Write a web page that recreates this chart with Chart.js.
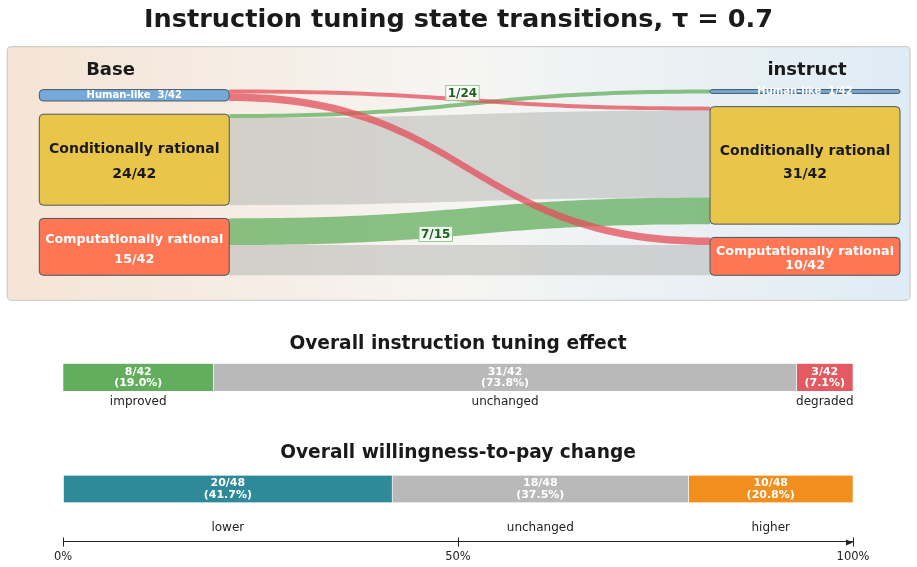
<!DOCTYPE html>
<html>
<head>
<meta charset="utf-8">
<title>Instruction tuning state transitions</title>
<script src="https://cdn.jsdelivr.net/npm/chart.js@4.4.1/dist/chart.umd.min.js"></script>
<style>
    html, body { margin: 0; padding: 0; background: #ffffff; }
    body { width: 917px; height: 567px; position: relative; overflow: hidden; font-family: 'DejaVu Sans', sans-serif; }
    canvas { position: absolute; left: 0; }
    #sankeyChart { top: 0; }
    #effectChart { top: 320px; }
    #wtpChart { top: 430px; }
    #mainTitle {
        position: absolute; left: 0; top: 0; width: 917px; height: 36px; line-height: 36px;
        text-align: center; font-weight: bold; font-size: 25.6px; color: #1a1a1a;
    }
</style>
</head>
<body>
<canvas id="sankeyChart" width="917" height="310"></canvas>
<canvas id="effectChart" width="917" height="95"></canvas>
<canvas id="wtpChart" width="917" height="140"></canvas>
<div id="mainTitle">Instruction tuning state transitions, τ = 0.7</div>

<script>
/* ==========================================================================
   Instruction tuning state transitions (tau = 0.7)
   top: sankey Base -> instruct, bottom: two stacked share bars
   ========================================================================== */

// --- data ------------------------------------------------------------------
const STATES          = ['Human-like', 'Conditionally rational', 'Computationally rational'];
const BASE_COUNTS     = [3, 24, 15];
const INSTRUCT_COUNTS = [1, 31, 10];

// transitions: source state -> destination state (index into STATES)
const FLOW_SRC    = [0, 0, 1, 1, 2, 2];
const FLOW_DST    = [1, 2, 0, 1, 1, 2];
const FLOW_COUNTS = [1, 2, 1, 23, 7, 8];

const EFFECT_LABELS = ['improved', 'unchanged', 'degraded'];
const EFFECT_COUNTS = [8, 31, 3];

const WTP_LABELS = ['lower', 'unchanged', 'higher'];
const WTP_COUNTS = [20, 18, 10];
const WTP_TICKS  = [0, 50, 100];   // percent

// --- styles ----------------------------------------------------------------
const FONT = "'DejaVu Sans', 'Noto Sans', sans-serif";
const NODE_COLORS  = ['#74a9d8', '#e9c54a', '#fe7653'];
const NODE_TEXT    = ['#ffffff', '#1a1a1a', '#ffffff'];
const NODE_FONT_PX = [10, 14, 12.7];
const FLOW_FILL = {
    same: 'rgba(176, 177, 174, 0.5)',
    up:   'rgba(99, 173, 94, 0.75)',
    down: 'rgba(227, 78, 89, 0.75)',
};
const EFFECT_COLORS = ['#63ad5e', '#b8b9b8', '#e35a63'];
const WTP_COLORS    = ['#2e8a98', '#b8b9b8', '#f28e1e'];

const NODE_GAP = 3.5;     // y units between stacked nodes
const NODE_W   = 0.2207;  // node width as fraction of the x axis

Chart.defaults.font.family = FONT;
Chart.defaults.color = '#222222';

document.addEventListener('DOMContentLoaded', () => {
    initSankey();
    initEffectChart();
    initWtpChart();
});

// --- sankey helpers --------------------------------------------------------
function stackNodes(counts) {
    let y = 0;
    return counts.map(c => {
        const node = { y0: y, y1: y + c, count: c };
        y += c + NODE_GAP;
        return node;
    });
}

function buildFlows(left, right) {
    const outOff = left.map(n => n.y0);
    const inOff  = right.map(n => n.y0);
    const idx = FLOW_COUNTS.map((_, i) => i);
    const src = {}, dst = {};

    // leaving side ordered by destination, arriving side ordered by source
    [...idx].sort((a, b) => FLOW_SRC[a] - FLOW_SRC[b] || FLOW_DST[a] - FLOW_DST[b]).forEach(i => {
        const s = FLOW_SRC[i];
        src[i] = [outOff[s], outOff[s] + FLOW_COUNTS[i]];
        outOff[s] += FLOW_COUNTS[i];
    });
    [...idx].sort((a, b) => FLOW_DST[a] - FLOW_DST[b] || FLOW_SRC[a] - FLOW_SRC[b]).forEach(i => {
        const d = FLOW_DST[i];
        dst[i] = [inOff[d], inOff[d] + FLOW_COUNTS[i]];
        inOff[d] += FLOW_COUNTS[i];
    });

    return idx.map(i => ({
        i,
        src: src[i],
        dst: dst[i],
        kind: FLOW_DST[i] < FLOW_SRC[i] ? 'up' : (FLOW_DST[i] > FLOW_SRC[i] ? 'down' : 'same'),
        label: `${FLOW_COUNTS[i]}/${BASE_COUNTS[FLOW_SRC[i]]}`,
    }));
}

function roundRect(ctx, x, y, w, h, r) {
    r = Math.min(r, h / 2, w / 2);
    ctx.beginPath();
    ctx.moveTo(x + r, y);
    ctx.lineTo(x + w - r, y);
    ctx.arcTo(x + w, y, x + w, y + r, r);
    ctx.lineTo(x + w, y + h - r);
    ctx.arcTo(x + w, y + h, x + w - r, y + h, r);
    ctx.lineTo(x + r, y + h);
    ctx.arcTo(x, y + h, x, y + h - r, r);
    ctx.lineTo(x, y + r);
    ctx.arcTo(x, y, x + r, y, r);
    ctx.closePath();
}

function flowPath(ctx, xa, xb, a0, a1, b0, b1) {
    const xm = (xa + xb) / 2;
    ctx.beginPath();
    ctx.moveTo(xa, a0);
    ctx.bezierCurveTo(xm, a0, xm, b0, xb, b0);
    ctx.lineTo(xb, b1);
    ctx.bezierCurveTo(xm, b1, xm, a1, xa, a1);
    ctx.closePath();
}

function initSankey() {
    const left  = stackNodes(BASE_COUNTS);
    const right = stackNodes(INSTRUCT_COUNTS);
    const flows = buildFlows(left, right);
    const yMax  = Math.max(left[left.length - 1].y1, right[right.length - 1].y1);
    const total = BASE_COUNTS.reduce((s, v) => s + v, 0);

    // label text offsets (px) per column / state, tuned to the figure
    const textDy = {
        base:     [[0], [-10.7, 15], [-6.9, 12.4]],
        instruct: [[-0.5], [-14.4, 9.3], [-4.3, 9]],
    };
    // flow label anchor: bezier parameter + vertical offset
    const labelAnchor = { 2: [0.48, -11.5], 4: [0.407, 9.8] };

    const sankeyPlugin = {
        id: 'sankeyDraw',
        beforeDatasetsDraw(chart) {
            const { ctx, chartArea: a, scales: { x, y } } = chart;
            const px = v => x.getPixelForValue(v);
            const py = v => y.getPixelForValue(v);

            // panel
            const pl = a.left - 32, pr = a.right + 10, pt = a.top - 43, pb = a.bottom + 25;
            const grad = ctx.createLinearGradient(pl, 0, pr, 0);
            grad.addColorStop(0, '#f5e4d5');
            grad.addColorStop(0.5, '#f6f5f3');
            grad.addColorStop(1, '#dfecf5');
            ctx.save();
            roundRect(ctx, pl, pt, pr - pl, pb - pt, 4);
            ctx.fillStyle = grad;
            ctx.fill();
            ctx.lineWidth = 1.3;
            ctx.strokeStyle = '#cfcfcf';
            ctx.stroke();

            // flows: unchanged first, then improved, then degraded
            const xa = px(NODE_W), xb = px(1 - NODE_W);
            ['same', 'up', 'down'].forEach(kind => {
                flows.filter(f => f.kind === kind).forEach(f => {
                    flowPath(ctx, xa, xb, py(f.src[0]), py(f.src[1]), py(f.dst[0]), py(f.dst[1]));
                    ctx.fillStyle = FLOW_FILL[kind];
                    ctx.fill();
                });
            });

            // nodes
            const drawColumn = (nodes, counts, x0, key) => {
                nodes.forEach((n, s) => {
                    const top = py(n.y0), bot = py(n.y1);
                    const l = px(x0), r = px(x0 + NODE_W);
                    roundRect(ctx, l, top, r - l, bot - top, 4);
                    ctx.fillStyle = NODE_COLORS[s];
                    ctx.fill();
                    ctx.lineWidth = 1;
                    ctx.strokeStyle = '#4b5763';
                    ctx.stroke();

                    const cx = (l + r) / 2, cy = (top + bot) / 2;
                    ctx.fillStyle = NODE_TEXT[s];
                    ctx.font = `bold ${NODE_FONT_PX[s]}px ${FONT}`;
                    ctx.textAlign = 'center';
                    ctx.textBaseline = 'middle';
                    const dy = textDy[key][s];
                    if (dy.length === 1) {
                        ctx.fillText(`${STATES[s]}  ${counts[s]}/${total}`, cx, cy + dy[0]);
                    } else {
                        ctx.fillText(STATES[s], cx, cy + dy[0]);
                        ctx.fillText(`${counts[s]}/${total}`, cx, cy + dy[1]);
                    }
                });
            };
            drawColumn(left, BASE_COUNTS, 0, 'base');
            drawColumn(right, INSTRUCT_COUNTS, 1 - NODE_W, 'instruct');

            // flow labels on improved transitions
            flows.filter(f => labelAnchor[f.i]).forEach(f => {
                const [t, dy] = labelAnchor[f.i];
                const ya = (py(f.src[0]) + py(f.src[1])) / 2;
                const yb = (py(f.dst[0]) + py(f.dst[1])) / 2;
                const lx = xa + (xb - xa) * (1.5 * t * (1 - t) + t * t * t);
                const ly = ya + (yb - ya) * (3 * t * t - 2 * t * t * t) + dy;
                ctx.font = `bold 12px ${FONT}`;
                const w = ctx.measureText(f.label).width + 4;
                ctx.fillStyle = 'rgba(255, 255, 255, 0.85)';
                ctx.fillRect(lx - w / 2, ly - 7.5, w, 15);
                ctx.lineWidth = 1;
                ctx.strokeStyle = '#8fc98c';
                ctx.strokeRect(lx - w / 2, ly - 7.5, w, 15);
                ctx.fillStyle = '#1f5f1f';
                ctx.textAlign = 'center';
                ctx.textBaseline = 'middle';
                ctx.fillText(f.label, lx, ly + 0.5);
            });

            // column headers
            ctx.fillStyle = '#1a1a1a';
            ctx.font = `bold 18px ${FONT}`;
            ctx.textAlign = 'center';
            ctx.textBaseline = 'middle';
            ctx.fillText('Base', px(NODE_W * 0.375), a.top - 19);
            ctx.fillText('instruct', px(1 - NODE_W / 2) + 2, a.top - 19);
            ctx.restore();
        }
    };

    new Chart(document.getElementById('sankeyChart'), {
        type: 'scatter',
        data: { datasets: [{ data: [] }] },
        options: {
            responsive: false,
            animation: false,
            layout: { padding: { left: 39.3, right: 17, top: 89.6, bottom: 34.7 } },
            plugins: { legend: { display: false }, tooltip: { enabled: false } },
            scales: {
                x: { type: 'linear', min: 0, max: 1, display: false },
                y: { type: 'linear', min: 0, max: yMax, reverse: true, display: false },
            }
        },
        plugins: [sankeyPlugin]
    });
}

// --- share bars ------------------------------------------------------------
const segmentTextPlugin = {
    id: 'segmentText',
    afterDatasetsDraw(chart, args, opts) {
        const ctx = chart.ctx;
        const total = chart.data.datasets.reduce((s, d) => s + d.data[0], 0);
        chart.data.datasets.forEach((ds, i) => {
            const el = chart.getDatasetMeta(i).data[0];
            const cx = (el.x + el.base) / 2;
            const v = ds.data[0];
            ctx.save();
            ctx.textAlign = 'center';
            ctx.textBaseline = 'middle';
            ctx.fillStyle = '#ffffff';
            ctx.font = `bold 11px ${FONT}`;
            ctx.fillText(`${v}/${total}`, cx, el.y - 5.4);
            ctx.fillText(`(${(v / total * 100).toFixed(1)}%)`, cx, el.y + 5.9);
            ctx.fillStyle = '#222222';
            ctx.font = `12px ${FONT}`;
            ctx.fillText(ds.label, cx, el.y + el.height / 2 + opts.below);
            ctx.restore();
        });
    }
};

function shareDatasets(labels, counts, colors, thickness) {
    return labels.map((label, i) => ({
        label,
        data: [counts[i]],
        backgroundColor: colors[i],
        borderColor: '#ffffff',
        borderWidth: { left: 0.6, right: 0.6, top: 0, bottom: 0 },
        borderSkipped: false,
        barPercentage: 1,
        categoryPercentage: 1,
        ...(thickness ? { barThickness: thickness } : {}),
    }));
}

function titleOpts(text, top, bottom) {
    return {
        display: true,
        text,
        color: '#1a1a1a',
        font: { size: 18.6, weight: 'bold', lineHeight: 1.2 },
        padding: { top, bottom },
    };
}

function initEffectChart() {
    const total = EFFECT_COUNTS.reduce((s, v) => s + v, 0);
    new Chart(document.getElementById('effectChart'), {
        type: 'bar',
        data: { labels: ['effect'], datasets: shareDatasets(EFFECT_LABELS, EFFECT_COUNTS, EFFECT_COLORS) },
        options: {
            indexAxis: 'y',
            responsive: false,
            animation: false,
            layout: { padding: { left: 63, right: 64, top: 0, bottom: 24 } },
            plugins: {
                legend: { display: false },
                tooltip: { enabled: false },
                title: titleOpts('Overall instruction tuning effect', 12.8, 8.4),
                segmentText: { below: 11 },
            },
            scales: {
                x: { stacked: true, min: 0, max: total, display: false },
                y: { stacked: true, display: false },
            }
        },
        plugins: [segmentTextPlugin]
    });
}

const axisArrowPlugin = {
    id: 'axisArrow',
    afterDraw(chart) {
        const { ctx, chartArea: a, scales: { x } } = chart;
        const y0 = Math.round(a.bottom) + 0.5;
        ctx.save();
        ctx.strokeStyle = '#222222';
        ctx.fillStyle = '#222222';
        ctx.lineWidth = 1;
        x.ticks.forEach(t => {
            const p = Math.round(x.getPixelForValue(t.value)) + 0.5;
            ctx.beginPath();
            ctx.moveTo(p, y0 - 5);
            ctx.lineTo(p, y0);
            ctx.stroke();
        });
        const tip = x.getPixelForValue(x.max);
        ctx.beginPath();
        ctx.moveTo(tip, y0);
        ctx.lineTo(tip - 7, y0 - 3);
        ctx.lineTo(tip - 7, y0 + 3);
        ctx.closePath();
        ctx.fill();
        ctx.restore();
    }
};

function initWtpChart() {
    const total = WTP_COUNTS.reduce((s, v) => s + v, 0);
    new Chart(document.getElementById('wtpChart'), {
        type: 'bar',
        data: { labels: ['wtp', ''], datasets: shareDatasets(WTP_LABELS, WTP_COUNTS, WTP_COLORS, 27) },
        options: {
            indexAxis: 'y',
            responsive: false,
            animation: false,
            layout: { padding: { left: 63, right: 64, top: 0, bottom: 1.6 } },
            plugins: {
                legend: { display: false },
                tooltip: { enabled: false },
                title: titleOpts('Overall willingness-to-pay change', 11.8, 7.3),
                segmentText: { below: 25.5 },
            },
            scales: {
                x: {
                    stacked: true, min: 0, max: total,
                    afterBuildTicks: axis => { axis.ticks = WTP_TICKS.map(p => ({ value: p / 100 * total })); },
                    ticks: { padding: 4, color: '#222222', font: { size: 11.5 }, callback: (v, i) => `${WTP_TICKS[i]}%` },
                    grid: { drawOnChartArea: false, drawTicks: true, tickLength: 5, color: '#222222' },
                    border: { display: true, color: '#222222', width: 1 },
                },
                y: { stacked: true, display: false },
            }
        },
        plugins: [segmentTextPlugin, axisArrowPlugin]
    });
}
</script>
</body>
</html>
